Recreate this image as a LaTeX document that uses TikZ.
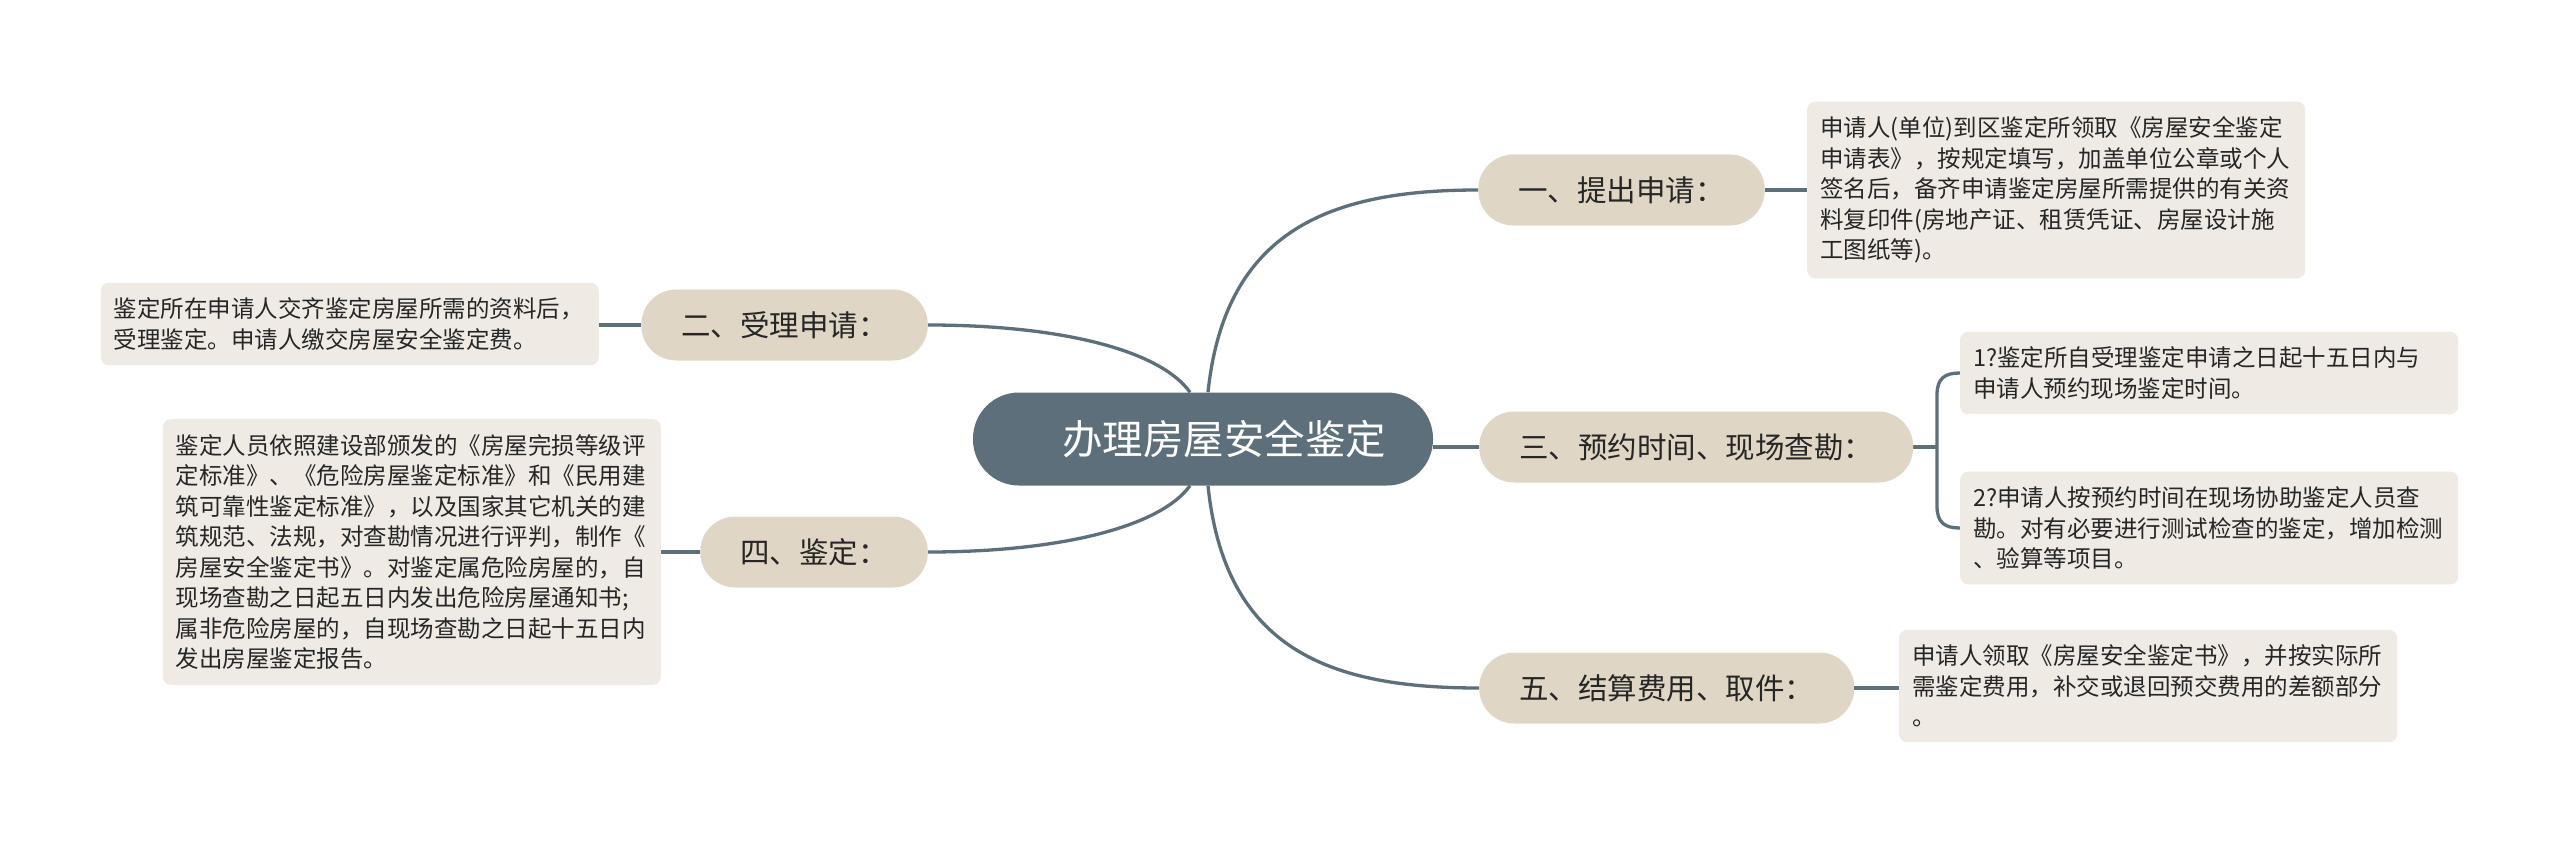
\documentclass[tikz,border=0pt]{standalone}
\usepackage{fontspec}
\setmainfont{Noto Sans CJK SC}
\definecolor{slate}{HTML}{5C6F7B}
\definecolor{tanfill}{HTML}{E0D6C5}
\definecolor{leaffill}{HTML}{EFEBE4}
\definecolor{textdark}{HTML}{262626}
\pgfdeclarelayer{bg}
\pgfdeclarelayer{lines}
\pgfsetlayers{bg,lines,main}
\tikzset{
  root/.style={fill=slate, text=white, rounded corners=46pt, minimum height=93pt,
    inner xsep=47pt, inner ysep=0pt, font=\fontsize{40.5}{48}\selectfont},
  branch/.style={fill=tanfill, text=textdark, rounded corners=35pt, minimum height=71pt,
    inner xsep=40pt, inner ysep=0pt, font=\fontsize{29.5}{36}\selectfont},
  leaf/.style={fill=leaffill, text=textdark, rounded corners=8pt, text width=472pt,
    align=left, inner xsep=13pt, inner ysep=15pt, font=\fontsize{23.5}{30.5}\selectfont},
  link/.style={draw=slate, line width=3.3pt}
}
\begin{document}
\begin{tikzpicture}[x=1pt, y=-1pt]
\begin{pgfonlayer}{bg}
  \fill[white] (0,0) rectangle (2560,848);
\end{pgfonlayer}
\useasboundingbox (0,0) rectangle (2560,848);

% root
\node[root] (c) at (1203,439) {\hspace*{42pt}办理房屋安全鉴定};

% branches
\node[branch, anchor=west] (b1) at (1478,190) {一、提出申请：};
\node[branch, anchor=east] (b2) at (928,325) {二、受理申请：};
\node[branch, anchor=west] (b3) at (1479,447) {三、预约时间、现场查勘：};
\node[branch, anchor=east] (b4) at (928,552) {四、鉴定：};
\node[branch, anchor=west] (b5) at (1479,688) {五、结算费用、取件：};

% leaves
\node[leaf, anchor=west] (l1) at (1807,190) {申请人(单位)到区鉴定所领取《房屋安全鉴定\\申请表》，按规定填写，加盖单位公章或个人\\签名后，备齐申请鉴定房屋所需提供的有关资\\料复印件(房地产证、租赁凭证、房屋设计施\\工图纸等)。};
\node[leaf, anchor=east] (l2) at (599,324) {鉴定所在申请人交齐鉴定房屋所需的资料后，\\受理鉴定。申请人缴交房屋安全鉴定费。};
\node[leaf, anchor=east] (l4) at (661,552) {鉴定人员依照建设部颁发的《房屋完损等级评\\定标准》、《危险房屋鉴定标准》和《民用建\\筑可靠性鉴定标准》，以及国家其它机关的建\\筑规范、法规，对查勘情况进行评判，制作《\\房屋安全鉴定书》。对鉴定属危险房屋的，自\\现场查勘之日起五日内发出危险房屋通知书;\\属非危险房屋的，自现场查勘之日起十五日内\\发出房屋鉴定报告。};
\node[leaf, anchor=west] (l3a) at (1960,373) {1?鉴定所自受理鉴定申请之日起十五日内与\\申请人预约现场鉴定时间。};
\node[leaf, anchor=west] (l3b) at (1960,528) {2?申请人按预约时间在现场协助鉴定人员查\\勘。对有必要进行测试检查的鉴定，增加检测\\、验算等项目。};
\node[leaf, anchor=west] (l5) at (1899,686) {申请人领取《房屋安全鉴定书》，并按实际所\\需鉴定费用，补交或退回预交费用的差额部分\\。};

\coordinate (j) at (1937,447);

\begin{pgfonlayer}{lines}
  \draw[link] ([xshift=5pt]c.north) .. controls (1225,230) and (1330,190) .. (b1.west);
  \draw[link] ([xshift=-13pt]c.north) .. controls (1160,350) and (1060,325) .. (b2.east);
  \draw[link] (c.east |- b3.west) -- (b3.west);
  \draw[link] ([xshift=-13pt]c.south) .. controls (1160,527) and (1060,552) .. (b4.east);
  \draw[link] ([xshift=5pt]c.south) .. controls (1225,650) and (1330,688) .. (b5.west);
  \draw[link] (b1.east) -- (l1.west |- b1.east);
  \draw[link] (b2.west) -- (l2.east |- b2.west);
  \draw[link] (b4.west) -- (l4.east |- b4.west);
  \draw[link] (b5.east) -- (l5.west |- b5.east);
  \draw[link] (b3.east) -- (j);
  \draw[link] (j) -- (1937,395) .. controls (1937,378) and (1945,373) .. (l3a.west);
  \draw[link] (j) -- (1937,506) .. controls (1937,523) and (1945,528) .. (l3b.west);
\end{pgfonlayer}
\end{tikzpicture}
\end{document}
